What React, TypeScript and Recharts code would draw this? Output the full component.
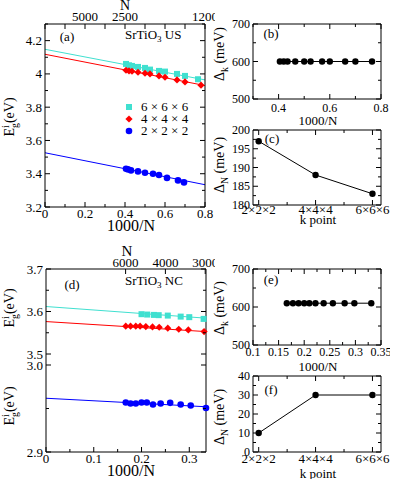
import React from "react"
import { ComposedChart, Scatter, Line, XAxis, YAxis } from "recharts"

// ---- panel (a): SrTiO3 US, gap vs 1000/N
const aCyanX = [0.405, 0.42, 0.435, 0.465, 0.5, 0.525, 0.57, 0.6, 0.66, 0.7, 0.765]
const aCyanY = [4.06, 4.052, 4.048, 4.042, 4.036, 4.026, 4.018, 4.014, 4.0, 3.988, 3.968]
const aRedX = [0.405, 0.42, 0.435, 0.465, 0.5, 0.525, 0.57, 0.6, 0.66, 0.7, 0.78]
const aRedY = [4.022, 4.018, 4.016, 4.01, 4.004, 4.0, 3.988, 3.98, 3.964, 3.952, 3.932]
const aBlueX = [0.405, 0.415, 0.43, 0.465, 0.5, 0.54, 0.57, 0.61, 0.665, 0.695]
const aBlueY = [3.43, 3.426, 3.42, 3.414, 3.406, 3.4, 3.392, 3.375, 3.36, 3.348]
const aFitX = [0, 0.8]
const aCyanFit = [4.148, 3.964]
const aRedFit = [4.118, 3.93]
const aBlueFit = [3.526, 3.334]
const aXTicks = [0, 0.1, 0.2, 0.3, 0.4, 0.5, 0.6, 0.7, 0.8]
const aXMajors = [0, 0.2, 0.4, 0.6, 0.8]
const aYTicks = [3.2, 3.3, 3.4, 3.5, 3.6, 3.7, 3.8, 3.9, 4.0, 4.1, 4.2, 4.3]
const aYMajors = [3.2, 3.4, 3.6, 3.8, 4.0, 4.2]
const aTopAt = [0.2, 0.4, 0.8]
const aTopLabels = ["5000", "2500", "1200"]

// ---- panel (b): Delta_k vs 1000/N
const bX = [0.405, 0.42, 0.435, 0.465, 0.5, 0.525, 0.57, 0.6, 0.66, 0.7, 0.765]
const bY = [600, 600, 600, 600, 600, 600, 600, 600, 600, 600, 600]
const bXTicks = [0.3, 0.4, 0.5, 0.6, 0.7, 0.8]
const bXMajors = [0.4, 0.6, 0.8]
const meVTicks = [500, 550, 600, 650, 700]
const meVMajors = [500, 600, 700]

// ---- k point panels (c) and (f)
const kX = [2, 4, 6]
const kLabels = ["2×2×2", "4×4×4", "6×6×6"]
const kTicks = [2, 3, 4, 5, 6]
const cY = [197, 188, 183]
const cYTicks = [180, 182.5, 185, 187.5, 190, 192.5, 195, 197.5, 200]
const cYMajors = [180, 185, 190, 195, 200]
const fY = [10, 30, 30]
const fYTicks = [0, 5, 10, 15, 20, 25, 30, 35, 40]
const fYMajors = [0, 10, 20, 30, 40]

// ---- panel (d): SrTiO3 NC
const dRedX = [0.167, 0.177, 0.188, 0.197, 0.209, 0.223, 0.237, 0.255, 0.278, 0.298, 0.331]
const dRedY = [3.5654, 3.5654, 3.5654, 3.5654, 3.5645, 3.5638, 3.563, 3.5607, 3.5583, 3.5567, 3.5527]
const dCyanX = [0.2, 0.212, 0.226, 0.236, 0.255, 0.282, 0.3, 0.33]
const dCyanY = [3.5937, 3.5928, 3.592, 3.5914, 3.5904, 3.588, 3.5867, 3.5826]
const dBlueX = [0.167, 0.177, 0.188, 0.2, 0.211, 0.224, 0.24, 0.26, 0.282, 0.303, 0.335]
const dBlueY = [2.9569, 2.9557, 2.9557, 2.9569, 2.9569, 2.9546, 2.9557, 2.9565, 2.9546, 2.9535, 2.9506]
const dFitX = [0, 0.335]
const dCyanFit = [3.6117, 3.5843]
const dRedFit = [3.5763, 3.5527]
const dBlueFit = [2.9618, 2.952]
const dXTicks = [0, 0.05, 0.1, 0.15, 0.2, 0.25, 0.3]
const dXMajors = [0, 0.1, 0.2, 0.3]
const dTopAt = [1 / 6, 0.25, 1 / 3]
const dTopLabels = ["6000", "4000", "3000"]
const dUpTicks = [3.5, 3.55, 3.6, 3.65, 3.7]
const dUpMajors = [3.5, 3.6, 3.7]
const dLowTicks = [2.9, 2.95, 3.0]
const dLowMajors = [2.9, 3.0]

// ---- panel (e): Delta_k vs 1000/N
const eX = [0.166, 0.178, 0.189, 0.2, 0.21, 0.222, 0.238, 0.256, 0.279, 0.298, 0.331]
const eY = [610, 610, 610, 610, 610, 610, 610, 610, 610, 610, 610]
const eXTicks = [0.1, 0.125, 0.15, 0.175, 0.2, 0.225, 0.25, 0.275, 0.3, 0.325, 0.35]
const eXMajors = [0.1, 0.15, 0.2, 0.25, 0.3, 0.35]

const CYAN = "#40e0d0"
const RED = "#ff0000"
const BLUE = "#0000ff"

const zip = (xs: number[], ys: number[]) => xs.map((x, i) => ({ x, y: ys[i] }))
const near = (a: number, b: number) => Math.abs(a - b) < 1e-6
const lookup = (at: number[], labels: string[]) => (v: number) => {
  const i = at.findIndex((a) => near(a, v))
  return i >= 0 ? labels[i] : ""
}

type Side = "left" | "right" | "top" | "bottom"

// inward ticks, majors longer, labels only on majors
function makeTick(side: Side, majors: number[], label?: (v: number) => string, gap = 4, size = 12) {
  return (p: any) => {
    const v = Number(p.payload.value)
    const major = majors.some((m) => near(m, v))
    const len = major ? 5 : 3
    const text = major && label ? label(v) : ""
    const { x, y } = p
    let tl
    let tx = x
    let ty = y
    let anchor = "middle"
    if (side === "left") {
      tl = <line x1={x} y1={y} x2={x + len} y2={y} stroke="#000" />
      tx = x - gap
      anchor = "end"
    } else if (side === "right") {
      tl = <line x1={x} y1={y} x2={x - len} y2={y} stroke="#000" />
    } else if (side === "bottom") {
      tl = <line x1={x} y1={y} x2={x} y2={y - len} stroke="#000" />
      ty = y + gap
    } else {
      tl = <line x1={x} y1={y} x2={x} y2={y + len} stroke="#000" />
      ty = y - gap
    }
    return (
      <g>
        {tl}
        {text ? (
          <text x={tx} y={ty} textAnchor={anchor} dominantBaseline="central" fontSize={size} fill="#000">
            {text}
          </text>
        ) : null}
      </g>
    )
  }
}

const square = (c: string) => (p: any) => <rect x={p.cx - 3} y={p.cy - 3} width={6} height={6} fill={c} />
const diamond = (c: string) => (p: any) => (
  <polygon
    points={`${p.cx},${p.cy - 3.6} ${p.cx + 3.6},${p.cy} ${p.cx},${p.cy + 3.6} ${p.cx - 3.6},${p.cy}`}
    fill={c}
  />
)
const dot = (c: string, r = 3.3) => (p: any) => <circle cx={p.cx} cy={p.cy} r={r} fill={c} />
const nothing = () => <g />

const axisLine = { stroke: "#000", strokeWidth: 1 }
const noMargin = { top: 0, right: 0, bottom: 0, left: 0 }

function Txt({ x, y, size = 13, rot = false, left = false, children }: any) {
  return (
    <div
      style={{
        position: "absolute",
        left: x,
        top: y,
        fontSize: size,
        lineHeight: 1,
        whiteSpace: "nowrap",
        transform: `translate(${left ? "0" : "-50%"}, -50%)${rot ? " rotate(-90deg)" : ""}`,
      }}
    >
      {children}
    </div>
  )
}

const Eg = () => (
  <span>
    E
    <span style={{ display: "inline-flex", flexDirection: "column", verticalAlign: "middle", fontSize: "0.7em", lineHeight: 0.95 }}>
      <span>i</span>
      <span>g</span>
    </span>
    (eV)
  </span>
)

function SmallPanel(props: {
  top: number
  height: number
  topH: number
  botH: number
  data: { x: number; y: number }[]
  xDomain: number[]
  xTicks: number[]
  xMajors: number[]
  xLabel: (v: number) => string
  yDomain: number[]
  yTicks: number[]
  yMajors: number[]
  xGap: number
  xSize?: number
}) {
  const p = props
  return (
    <div style={{ position: "absolute", left: 200, top: p.top }}>
      <ComposedChart width={190} height={p.height} margin={noMargin}>
        <XAxis xAxisId="b" type="number" dataKey="x" domain={p.xDomain} ticks={p.xTicks} interval={0}
          height={p.botH} axisLine={axisLine} tickLine={false} tickSize={0} tickMargin={0}
          tick={makeTick("bottom", p.xMajors, p.xLabel, p.xGap, p.xSize || 12)} />
        <XAxis xAxisId="t" orientation="top" type="number" dataKey="x" domain={p.xDomain} ticks={p.xTicks} interval={0}
          height={p.topH} axisLine={axisLine} tickLine={false} tickSize={0} tickMargin={0}
          tick={makeTick("top", p.xMajors)} />
        <YAxis yAxisId="l" type="number" dataKey="y" domain={p.yDomain} ticks={p.yTicks} interval={0}
          width={53} axisLine={axisLine} tickLine={false} tickSize={0} tickMargin={0}
          tick={makeTick("left", p.yMajors, String, 3, 12)} />
        <YAxis yAxisId="r" orientation="right" type="number" dataKey="y" domain={p.yDomain} ticks={p.yTicks} interval={0}
          width={9} axisLine={axisLine} tickLine={false} tickSize={0} tickMargin={0}
          tick={makeTick("right", p.yMajors)} />
        <Scatter xAxisId="t" yAxisId="r" data={p.data} shape={nothing} isAnimationActive={false} />
        <Scatter xAxisId="b" yAxisId="l" data={p.data} line={{ stroke: "#000", strokeWidth: 1 }} lineType="joint"
          shape={dot("#000", 3.2)} isAnimationActive={false} />
      </ComposedChart>
    </div>
  )
}

export default function App() {
  const aTop = lookup(aTopAt, aTopLabels)
  const dTop = lookup(dTopAt, dTopLabels)
  const kLab = lookup(kX, kLabels)
  return (
    <div style={{ position: "absolute", left: 0, top: 0, width: 399, height: 479, background: "#fff", fontFamily: "'Liberation Serif', serif", color: "#000" }}>
      {/* (a) */}
      <div style={{ position: "absolute", left: 0, top: 0 }}>
        <ComposedChart width={215} height={240} margin={noMargin}>
          <XAxis xAxisId="b" type="number" dataKey="x" domain={[0, 0.8]} ticks={aXTicks} interval={0}
            height={33} axisLine={axisLine} tickLine={false} tickSize={0} tickMargin={0}
            tick={makeTick("bottom", aXMajors, String, 6, 13)} />
          <XAxis xAxisId="t" orientation="top" type="number" dataKey="x" domain={[0, 0.8]} ticks={aXTicks} interval={0}
            height={24} axisLine={axisLine} tickLine={false} tickSize={0} tickMargin={0}
            tick={makeTick("top", aXTicks, aTop, 7.5, 13)} />
          <YAxis yAxisId="l" type="number" dataKey="y" domain={[3.2, 4.3]} ticks={aYTicks} interval={0}
            width={45} axisLine={axisLine} tickLine={false} tickSize={0} tickMargin={0}
            tick={makeTick("left", aYMajors, String, 3, 13)} />
          <YAxis yAxisId="r" orientation="right" type="number" dataKey="y" domain={[3.2, 4.3]} ticks={aYTicks} interval={0}
            width={10} axisLine={axisLine} tickLine={false} tickSize={0} tickMargin={0}
            tick={makeTick("right", aYMajors)} />
          <Scatter xAxisId="t" yAxisId="r" data={zip(aCyanX, aCyanY)} shape={nothing} isAnimationActive={false} />
          <Line xAxisId="b" yAxisId="l" data={zip(aFitX, aCyanFit)} dataKey="y" stroke={CYAN} dot={false} isAnimationActive={false} />
          <Line xAxisId="b" yAxisId="l" data={zip(aFitX, aRedFit)} dataKey="y" stroke={RED} dot={false} isAnimationActive={false} />
          <Line xAxisId="b" yAxisId="l" data={zip(aFitX, aBlueFit)} dataKey="y" stroke={BLUE} dot={false} isAnimationActive={false} />
          <Scatter xAxisId="b" yAxisId="l" data={zip(aCyanX, aCyanY)} shape={square(CYAN)} isAnimationActive={false} />
          <Scatter xAxisId="b" yAxisId="l" data={zip(aRedX, aRedY)} shape={diamond(RED)} isAnimationActive={false} />
          <Scatter xAxisId="b" yAxisId="l" data={zip(aBlueX, aBlueY)} shape={dot(BLUE)} isAnimationActive={false} />
        </ComposedChart>
      </div>
      <Txt x={125} y={6} size={14}>N</Txt>
      <Txt x={67} y={36}>(a)</Txt>
      <Txt x={125} y={36} left>SrTiO<sub style={{ fontSize: "0.7em" }}>3</sub> US</Txt>
      <Txt x={10} y={117} size={14} rot><Eg /></Txt>
      <Txt x={131} y={226} size={16}>1000/N</Txt>
      {[
        { c: CYAN, t: "6 × 6 × 6", y: 107, s: "sq" },
        { c: RED, t: "4 × 4 × 4", y: 119, s: "di" },
        { c: BLUE, t: "2 × 2 × 2", y: 131, s: "ci" },
      ].map((r) => (
        <div key={r.t} style={{ position: "absolute", left: 124, top: r.y - 7, height: 14, display: "flex", alignItems: "center", fontSize: 13 }}>
          <svg width={10} height={10} style={{ marginRight: 7 }}>
            {r.s === "sq" ? <rect x={2} y={2} width={6} height={6} fill={r.c} /> : null}
            {r.s === "di" ? <polygon points="5,1.4 8.6,5 5,8.6 1.4,5" fill={r.c} /> : null}
            {r.s === "ci" ? <circle cx={5} cy={5} r={3.3} fill={r.c} /> : null}
          </svg>
          <span>{r.t}</span>
        </div>
      ))}

      {/* (b) */}
      <SmallPanel top={0} height={130} topH={24} botH={31} data={zip(bX, bY)} xDomain={[0.3, 0.8]} xTicks={bXTicks}
        xMajors={bXMajors} xLabel={String} yDomain={[500, 700]} yTicks={meVTicks} yMajors={meVMajors} xGap={9} />
      <Txt x={271} y={33}>(b)</Txt>
      <Txt x={221} y={54} size={14} rot>Δ<sub style={{ fontSize: "0.7em" }}>k</sub> (meV)</Txt>
      <Txt x={318} y={120} size={13}>1000/N</Txt>

      {/* (c) */}
      <SmallPanel top={115} height={115} topH={15} botH={25} data={zip(kX, cY)} xDomain={[1.8, 6.3]} xTicks={kTicks}
        xMajors={kX} xLabel={kLab} yDomain={[180, 200]} yTicks={cYTicks} yMajors={cYMajors} xGap={4} xSize={13} />
      <Txt x={272} y={138}>(c)</Txt>
      <Txt x={221} y={165} size={14} rot>Δ<sub style={{ fontSize: "0.7em" }}>N</sub> (meV)</Txt>
      <Txt x={318} y={219} size={13}>k point</Txt>

      {/* (d) upper part */}
      <div style={{ position: "absolute", left: 0, top: 235 }}>
        <ComposedChart width={215} height={125} margin={noMargin}>
          <XAxis xAxisId="t" orientation="top" type="number" dataKey="x" domain={[0, 0.335]} ticks={dTopAt} interval={0}
            height={34} axisLine={axisLine} tickLine={false} tickSize={0} tickMargin={0}
            tick={makeTick("top", dTopAt, dTop, 7, 13)} />
          <YAxis yAxisId="l" type="number" dataKey="y" domain={[3.4859, 3.7]} ticks={dUpTicks} interval={0}
            width={46} axisLine={axisLine} tickLine={false} tickSize={0} tickMargin={0}
            tick={makeTick("left", dUpMajors, String, 3, 13)} />
          <YAxis yAxisId="r" orientation="right" type="number" dataKey="y" domain={[3.4859, 3.7]} ticks={dUpTicks} interval={0}
            width={9} axisLine={axisLine} tickLine={false} tickSize={0} tickMargin={0}
            tick={makeTick("right", dUpMajors)} />
          <Scatter xAxisId="t" yAxisId="r" data={zip(dRedX, dRedY)} shape={nothing} isAnimationActive={false} />
          <Line xAxisId="t" yAxisId="l" data={zip(dFitX, dCyanFit)} dataKey="y" stroke={CYAN} dot={false} isAnimationActive={false} />
          <Line xAxisId="t" yAxisId="l" data={zip(dFitX, dRedFit)} dataKey="y" stroke={RED} dot={false} isAnimationActive={false} />
          <Scatter xAxisId="t" yAxisId="l" data={zip(dCyanX, dCyanY)} shape={square(CYAN)} isAnimationActive={false} />
          <Scatter xAxisId="t" yAxisId="l" data={zip(dRedX, dRedY)} shape={diamond(RED)} isAnimationActive={false} />
        </ComposedChart>
      </div>
      {/* (d) lower part */}
      <div style={{ position: "absolute", left: 0, top: 360 }}>
        <ComposedChart width={215} height={119} margin={noMargin}>
          <XAxis xAxisId="b" type="number" dataKey="x" domain={[0, 0.335]} ticks={dXTicks} interval={0}
            height={27} axisLine={axisLine} tickLine={false} tickSize={0} tickMargin={0}
            tick={makeTick("bottom", dXMajors, String, 6, 13)} />
          <YAxis yAxisId="l" type="number" dataKey="y" domain={[2.9, 3.00575]} ticks={dLowTicks} interval={0}
            width={46} axisLine={axisLine} tickLine={false} tickSize={0} tickMargin={0}
            tick={makeTick("left", dLowMajors, (v) => v.toFixed(1), 3, 13)} />
          <YAxis yAxisId="r" orientation="right" type="number" dataKey="y" domain={[2.9, 3.00575]} ticks={dLowTicks} interval={0}
            width={9} axisLine={axisLine} tickLine={false} tickSize={0} tickMargin={0}
            tick={makeTick("right", dLowMajors)} />
          <Scatter xAxisId="b" yAxisId="r" data={zip(dBlueX, dBlueY)} shape={nothing} isAnimationActive={false} />
          <Line xAxisId="b" yAxisId="l" data={zip(dFitX, dBlueFit)} dataKey="y" stroke={BLUE} dot={false} isAnimationActive={false} />
          <Scatter xAxisId="b" yAxisId="l" data={zip(dBlueX, dBlueY)} shape={dot(BLUE)} isAnimationActive={false} />
        </ComposedChart>
      </div>
      <Txt x={127} y={251} size={15}>N</Txt>
      <Txt x={72} y={284}>(d)</Txt>
      <Txt x={125} y={282} left>SrTiO<sub style={{ fontSize: "0.7em" }}>3</sub> NC</Txt>
      <Txt x={10} y={308} size={14} rot><Eg /></Txt>
      <Txt x={10} y={406} size={14} rot><Eg /></Txt>
      <Txt x={131} y={471} size={16}>1000/N</Txt>

      {/* (e) */}
      <SmallPanel top={250} height={125} topH={19} botH={30} data={zip(eX, eY)} xDomain={[0.1, 0.35]} xTicks={eXTicks}
        xMajors={eXMajors} xLabel={String} yDomain={[500, 700]} yTicks={meVTicks} yMajors={meVMajors} xGap={7} />
      <Txt x={271} y={279}>(e)</Txt>
      <Txt x={221} y={308} size={14} rot>Δ<sub style={{ fontSize: "0.7em" }}>k</sub> (meV)</Txt>
      <Txt x={318} y={366} size={13}>1000/N</Txt>

      {/* (f) */}
      <SmallPanel top={360} height={119} topH={16} botH={27} data={zip(kX, fY)} xDomain={[1.8, 6.3]} xTicks={kTicks}
        xMajors={kX} xLabel={kLab} yDomain={[0, 40]} yTicks={fYTicks} yMajors={fYMajors} xGap={6} xSize={13} />
      <Txt x={271} y={389}>(f)</Txt>
      <Txt x={221} y={417} size={14} rot>Δ<sub style={{ fontSize: "0.7em" }}>N</sub> (meV)</Txt>
      <Txt x={318} y={473} size={13}>k point</Txt>
    </div>
  )
}
